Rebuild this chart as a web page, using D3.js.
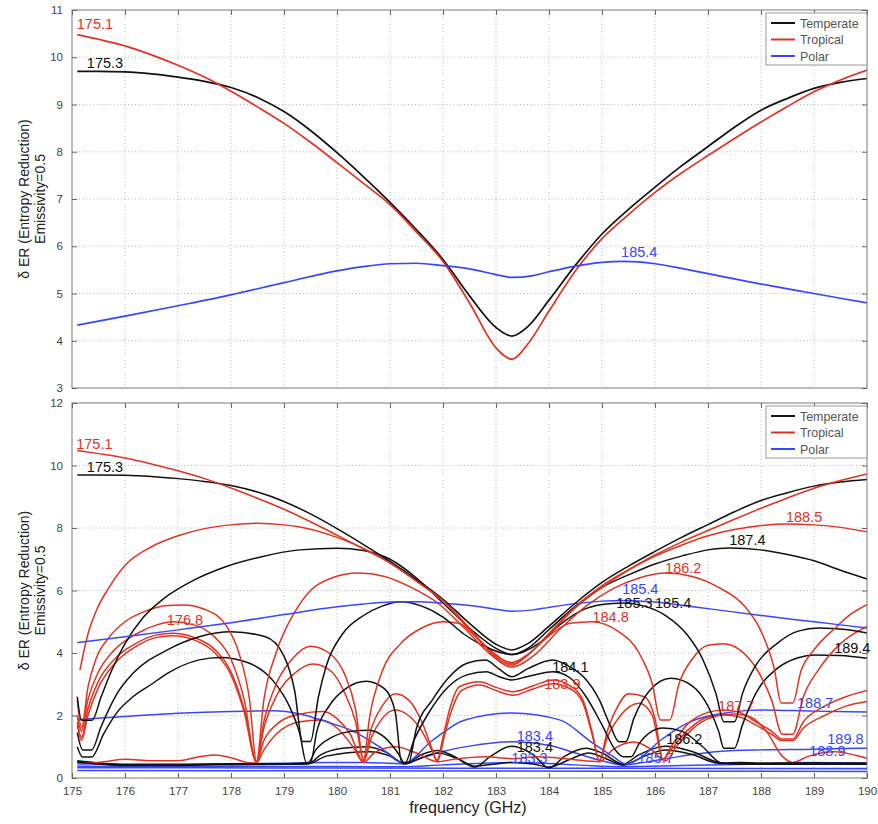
<!DOCTYPE html>
<html>
<head>
<meta charset="utf-8">
<script src="https://cdn.jsdelivr.net/npm/d3@7"></script>
<style>
  body { margin: 0; background: #fff; }
  svg { display: block; font-family: "Liberation Sans", Arial, sans-serif; }
</style>
</head>
<body>
<svg id="chart" width="878" height="824"></svg>
<script>
// ---- axis ticks ----
const freqTicks = [175, 176, 177, 178, 179, 180, 181, 182, 183, 184, 185, 186, 187, 188, 189, 190];
const topYTicks = [3, 4, 5, 6, 7, 8, 9, 10, 11];
const bottomYTicks = [0, 2, 4, 6, 8, 10, 12];

// ---- climate profiles in legend order ----
const profiles = ["Temperate", "Tropical", "Polar"];
const profileColors = ["#111111", "#e3321f", "#3547ff"];

// ---- first channel: [frequency GHz, entropy reduction] ----
const temperateFirst = [[175.1,9.70],[175.5,9.70],[176,9.69],[176.5,9.65],[177,9.58],[177.5,9.49],[178,9.36],[178.5,9.15],[179,8.85],[179.5,8.45],[180,7.98],[180.5,7.47],[181,6.93],[181.5,6.35],[182,5.72],[182.5,4.95],[183,4.28],[183.3,4.10],[183.6,4.30],[184,4.86],[184.5,5.60],[185,6.26],[185.5,6.78],[186,7.25],[186.5,7.70],[187,8.11],[187.5,8.52],[188,8.88],[188.5,9.13],[189,9.34],[189.5,9.47],[190,9.55]];
const tropicalFirst = [[175.1,10.48],[175.5,10.38],[176,10.24],[176.5,10.05],[177,9.83],[177.5,9.58],[178,9.28],[178.5,8.95],[179,8.60],[179.5,8.20],[180,7.77],[180.5,7.33],[181,6.88],[181.5,6.30],[182,5.68],[182.5,4.80],[183,3.85],[183.3,3.61],[183.6,3.93],[184,4.63],[184.5,5.48],[185,6.16],[185.5,6.67],[186,7.14],[186.5,7.55],[187,7.92],[187.5,8.28],[188,8.63],[188.5,8.96],[189,9.27],[189.5,9.52],[190,9.73]];
const polarFirst = [[175.1,4.33],[176,4.52],[177,4.74],[178,4.97],[179,5.23],[180,5.48],[180.5,5.57],[181,5.63],[181.5,5.64],[182,5.59],[182.5,5.52],[183,5.40],[183.3,5.34],[183.7,5.38],[184,5.46],[184.5,5.58],[185,5.66],[185.4,5.68],[186,5.63],[186.5,5.53],[187,5.42],[188,5.20],[189,5.00],[190,4.80]];

// ---- further channels, temperate ----
const temperate187_4 = [[175.1,2.60],[175.18,1.85],[175.38,1.85],[175.55,2.60],[175.75,3.45],[176,4.30],[176.35,5.15],[176.7,5.70],[177.3,6.33],[177.9,6.76],[178.5,7.05],[179.3,7.30],[180,7.35],[180.5,7.28],[181,7.00],[181.5,6.40],[182,5.60],[182.5,4.80],[183,4.15],[183.3,3.95],[183.6,4.15],[184,4.75],[184.5,5.50],[185,6.10],[185.5,6.50],[186,6.85],[186.5,7.10],[187,7.30],[187.4,7.36],[188,7.30],[188.5,7.15],[189,6.95],[189.5,6.65],[190,6.37]];
const temperate185_4 = [[175.1,1.45],[175.2,0.90],[175.37,0.90],[175.55,1.65],[175.85,2.70],[176.15,3.35],[176.8,4.10],[177.4,4.52],[178,4.68],[178.65,4.52],[179.0,3.90],[179.2,2.80],[179.35,1.17],[179.5,1.17],[179.65,2.60],[179.8,3.60],[180.1,4.60],[180.5,5.20],[180.85,5.50],[181.2,5.64],[181.6,5.50],[182.0,5.15],[182.4,4.60],[182.8,4.20],[183.3,3.95],[183.8,4.30],[184.2,4.90],[184.6,5.35],[185.0,5.55],[185.4,5.60],[185.8,5.50],[186.2,5.20],[186.6,4.60],[186.9,3.80],[187.15,2.70],[187.3,1.80],[187.5,1.80],[187.65,2.70],[187.9,3.60],[188.3,4.30],[188.7,4.70],[189.1,4.80],[189.6,4.75],[190,4.64]];
const temperate184_1 = [[175.1,1.00],[175.2,0.67],[175.37,0.67],[175.6,1.42],[175.85,2.10],[176.15,2.60],[176.5,3.00],[176.8,3.35],[177.4,3.78],[177.8,3.86],[178.35,3.67],[178.8,3.10],[179.1,2.30],[179.3,1.40],[179.42,0.50],[179.5,0.50],[179.62,1.50],[179.85,2.30],[180.2,2.90],[180.55,3.10],[180.9,2.85],[181.1,2.10],[181.22,0.50],[181.35,0.50],[181.5,1.60],[181.8,2.50],[182.1,3.20],[182.45,3.67],[182.8,3.78],[183.05,3.50],[183.3,3.24],[183.6,3.50],[184.07,3.78],[184.4,3.55],[184.65,3.24],[184.95,2.50],[185.15,1.70],[185.32,1.16],[185.45,1.16],[185.6,1.90],[185.9,2.80],[186.3,3.19],[186.7,2.95],[187.0,2.30],[187.2,1.50],[187.3,0.95],[187.5,0.95],[187.65,1.70],[187.9,2.70],[188.3,3.50],[188.7,3.85],[189.0,3.94],[189.5,3.92],[190,3.83]];
const temperate185_3 = [[175.1,0.50],[176,0.42],[177,0.42],[178,0.46],[179,0.46],[179.45,0.48],[179.6,0.90],[179.9,1.30],[180.3,1.50],[180.6,1.53],[180.9,1.30],[181.15,0.80],[181.28,0.47],[181.45,1.20],[181.7,2.00],[182.1,2.92],[182.45,3.30],[182.82,3.40],[183.05,3.25],[183.3,3.14],[183.6,3.25],[184.07,3.40],[184.4,3.20],[184.7,2.60],[185.0,1.70],[185.25,0.90],[185.4,0.68],[185.55,0.68],[185.7,1.10],[185.9,1.45],[186.15,1.60],[186.5,1.50],[186.9,1.00],[187.27,0.47],[187.6,0.50],[188,0.48],[189,0.48],[190,0.48]];
const temperate183_4 = [[175.1,0.55],[175.5,0.48],[176,0.42],[177,0.40],[178,0.45],[179,0.45],[179.45,0.46],[179.7,0.75],[180.1,0.95],[180.55,1.00],[180.9,0.85],[181.28,0.46],[181.6,0.75],[181.9,0.88],[182.2,0.70],[182.6,0.35],[182.9,0.70],[183.3,1.02],[183.7,0.75],[184.0,0.32],[184.3,0.70],[184.7,0.95],[185.0,0.80],[185.4,0.45],[185.7,0.75],[186.2,1.02],[186.7,0.85],[187.2,0.50],[187.6,0.45],[188,0.45],[189,0.45],[190,0.45]];
const temperate186_2 = [[175.1,0.52],[176,0.40],[177.5,0.42],[179,0.44],[179.45,0.45],[179.8,0.70],[180.6,0.84],[181.0,0.70],[181.28,0.45],[181.6,0.65],[181.9,0.80],[182.3,0.60],[182.6,0.38],[183.0,0.45],[183.3,0.50],[183.7,0.45],[184.0,0.35],[184.4,0.60],[184.75,0.80],[185.1,0.60],[185.4,0.42],[185.8,0.70],[186.2,0.90],[186.7,0.75],[187.2,0.47],[188,0.44],[189,0.44],[190,0.44]];

// ---- further channels, tropical ----
const tropical188_5 = [[175.15,3.45],[175.3,4.60],[175.47,5.40],[175.7,6.10],[176,6.80],[176.5,7.40],[177,7.75],[177.5,7.98],[178,8.10],[178.5,8.15],[179,8.10],[179.3,8.03],[180,7.70],[180.5,7.35],[181,6.90],[181.5,6.30],[182,5.65],[182.5,4.75],[183,3.90],[183.3,3.70],[183.6,3.95],[184,4.60],[184.5,5.45],[185,6.10],[185.5,6.65],[186,7.10],[186.5,7.45],[187,7.75],[187.5,7.95],[188,8.08],[188.5,8.13],[189,8.10],[189.5,8.02],[190,7.88]];
const tropical186_2 = [[175.1,2.50],[175.18,1.60],[175.3,2.90],[175.45,3.80],[175.7,4.50],[176,5.00],[176.4,5.35],[176.8,5.52],[177.1,5.54],[177.5,5.40],[177.9,4.90],[178.15,4.00],[178.35,2.50],[178.48,0.52],[178.62,2.50],[178.85,4.00],[179.2,5.30],[179.5,6.00],[179.9,6.40],[180.4,6.56],[180.9,6.45],[181.4,6.10],[181.9,5.60],[182.4,4.80],[182.9,3.95],[183.3,3.55],[183.7,3.90],[184.2,4.75],[184.7,5.50],[185.2,6.05],[185.7,6.40],[186.2,6.56],[186.7,6.45],[187.2,6.10],[187.7,5.48],[188.0,4.70],[188.25,3.50],[188.38,2.40],[188.6,2.40],[188.75,3.40],[189.0,4.10],[189.4,4.80],[189.7,5.25],[190,5.55]];
const tropical184_8 = [[175.1,2.00],[175.18,1.50],[175.3,2.50],[175.5,3.40],[175.8,4.10],[176.2,4.60],[176.6,4.90],[176.9,5.00],[177.3,4.90],[177.7,4.50],[178.0,3.80],[178.25,2.50],[178.48,0.52],[178.62,1.80],[178.85,3.00],[179.15,3.80],[179.5,4.22],[179.85,4.00],[180.15,3.30],[180.35,2.20],[180.5,0.60],[180.62,2.00],[180.85,3.40],[181.2,4.30],[181.6,4.80],[182.0,5.00],[182.3,4.95],[182.6,4.55],[183.0,3.95],[183.3,3.65],[183.6,3.95],[184.0,4.55],[184.4,4.95],[184.8,5.00],[185.3,4.70],[185.7,4.00],[185.95,3.00],[186.1,1.86],[186.28,1.86],[186.45,3.00],[186.7,3.80],[187.0,4.25],[187.3,4.30],[187.6,4.10],[187.95,3.40],[188.2,2.50],[188.4,1.40],[188.6,1.40],[188.8,2.60],[189.1,3.50],[189.5,4.30],[190,4.85]];
const tropical183_9 = [[175.1,1.80],[175.18,1.30],[175.3,2.20],[175.5,3.10],[175.8,3.80],[176.2,4.30],[176.6,4.58],[176.9,4.63],[177.3,4.50],[177.7,4.10],[178.0,3.40],[178.25,2.20],[178.48,0.52],[178.62,1.60],[178.85,2.60],[179.2,3.35],[179.55,3.65],[179.9,3.40],[180.15,2.70],[180.35,1.80],[180.5,0.55],[180.65,1.60],[180.85,2.30],[181.1,2.70],[181.35,2.50],[181.6,1.80],[181.8,0.90],[181.88,0.55],[182.0,1.30],[182.12,2.17],[182.31,2.92],[182.69,3.08],[183.0,2.90],[183.32,2.76],[183.7,2.95],[184.07,3.14],[184.4,2.95],[184.64,2.50],[184.82,1.43],[184.95,0.55],[185.1,1.50],[185.3,2.30],[185.5,2.70],[185.8,2.60],[186.0,1.90],[186.15,0.60],[186.3,1.00],[186.6,1.70],[187.0,2.10],[187.3,2.18],[187.6,2.10],[187.9,1.80],[188.2,1.50],[188.4,1.25],[188.6,1.25],[188.8,1.80],[189.2,2.30],[189.6,2.60],[190,2.80]];
const tropical183_8 = [[175.1,1.70],[175.18,1.20],[175.3,2.00],[175.5,2.90],[175.8,3.65],[176.2,4.20],[176.6,4.50],[176.9,4.55],[177.3,4.42],[177.7,4.00],[178.0,3.30],[178.25,2.10],[178.48,0.52],[178.62,1.20],[178.85,1.70],[179.3,2.05],[179.74,2.13],[180.0,1.90],[180.25,1.40],[180.5,0.52],[180.65,1.30],[180.85,1.90],[181.1,2.18],[181.35,2.00],[181.6,1.50],[181.8,0.85],[181.9,0.55],[182.02,1.30],[182.15,2.10],[182.35,2.80],[182.69,2.98],[183.0,2.80],[183.32,2.65],[183.7,2.85],[184.07,3.02],[184.4,2.85],[184.64,2.40],[184.82,1.35],[184.95,0.55],[185.1,1.30],[185.35,2.00],[185.7,2.39],[185.95,2.00],[186.15,0.60],[186.3,0.90],[186.6,1.50],[187.0,1.95],[187.3,2.02],[187.6,1.95],[187.9,1.70],[188.2,1.40],[188.4,1.20],[188.6,1.20],[188.8,1.60],[189.2,2.00],[189.6,2.30],[190,2.45]];
const tropical187_7 = [[175.1,0.50],[175.3,0.47],[175.6,0.52],[176.0,0.60],[176.5,0.55],[177.0,0.55],[177.4,0.68],[177.7,0.74],[178.0,0.65],[178.3,0.50],[178.48,0.48],[178.62,0.90],[178.85,1.40],[179.3,1.80],[179.7,1.86],[180.0,1.60],[180.3,1.00],[180.5,0.50],[180.7,0.80],[181.1,1.00],[181.5,0.80],[181.9,0.52],[182.2,0.60],[182.8,0.68],[183.3,0.62],[183.8,0.68],[184.4,0.60],[184.95,0.52],[185.2,0.90],[185.6,1.15],[185.9,0.95],[186.2,0.55],[186.4,1.00],[186.8,1.70],[187.2,2.00],[187.5,2.05],[187.8,1.95],[188.1,1.50],[188.4,0.70],[188.6,0.50],[188.9,0.70],[189.4,0.84],[189.8,0.72],[190,0.63]];

// ---- further channels, polar ----
const polar188_7 = [[175.1,1.87],[176,1.97],[177,2.07],[178,2.13],[178.8,2.15],[179.3,2.05],[179.8,1.80],[180.3,1.50],[180.8,1.00],[181.25,0.48],[181.8,1.20],[182.4,1.85],[183.3,2.08],[184.2,1.86],[184.8,1.15],[185.2,0.70],[185.45,0.45],[185.7,0.62],[186.1,1.20],[186.6,1.75],[187.4,2.10],[188,2.18],[189,2.14],[190,2.11]];
const polar183_4 = [[175.1,0.45],[176,0.45],[177,0.45],[178,0.46],[179,0.47],[179.8,0.50],[180.5,0.50],[181.25,0.46],[181.6,0.65],[182.0,0.85],[182.5,1.02],[183.3,1.16],[184.0,1.05],[184.5,0.80],[185.0,0.55],[185.4,0.42],[185.8,0.50],[186.5,0.70],[187.2,0.85],[188,0.90],[189,0.92],[189.8,0.95],[190,0.95]];
const polar183_3 = [[175.1,0.38],[177,0.37],[179,0.37],[181.2,0.36],[182,0.42],[183.3,0.50],[184.5,0.42],[185.4,0.36],[186.5,0.40],[188,0.45],[188.9,0.50],[190,0.48]];
const polarFloorA = [[175.1,0.33],[180,0.32],[185,0.31],[190,0.30]];
const polarFloorB = [[175.1,0.24],[180,0.23],[185,0.22],[190,0.21]];

// curve labels: [panel, text, profile index, frequency at left edge, value at baseline]
const curveLabels = [
  [0, "175.1", 1, 175.09, 10.60],
  [0, "175.3", 0, 175.28, 9.77],
  [0, "185.4", 2, 185.36, 5.77],
  [1, "175.1", 1, 175.08, 10.53],
  [1, "175.3", 0, 175.28, 9.79],
  [1, "176.8", 1, 176.79, 4.90],
  [1, "188.5", 1, 188.47, 8.19],
  [1, "187.4", 0, 187.40, 7.46],
  [1, "186.2", 1, 186.19, 6.56],
  [1, "185.4", 2, 185.38, 5.89],
  [1, "185.3", 0, 185.27, 5.44],
  [1, "185.4", 0, 186.00, 5.44],
  [1, "184.8", 1, 184.82, 4.99],
  [1, "184.1", 0, 184.06, 3.39],
  [1, "183.9", 1, 183.91, 2.85],
  [1, "183.4", 2, 183.39, 1.18],
  [1, "183.4", 0, 183.39, 0.83],
  [1, "183.3", 2, 183.29, 0.48],
  [1, "186.2", 0, 186.21, 1.09],
  [1, "185.7", 2, 185.67, 0.48],
  [1, "187.7", 1, 187.19, 2.14],
  [1, "188.7", 2, 188.68, 2.24],
  [1, "189.8", 2, 189.25, 1.09],
  [1, "188.9", 2, 188.91, 0.70],
  [1, "189.4", 0, 189.38, 4.00]
];

const svg = d3.select("#chart");
svg.append("rect").attr("width", 878).attr("height", 824).attr("fill", "#fff");

const x = d3.scaleLinear().domain([175, 190]).range([72, 867]);
const panels = [
  { y: d3.scaleLinear().domain([3, 11]).range([388, 10]), ticks: topYTicks,
    series: [[temperateFirst, 0], [tropicalFirst, 1], [polarFirst, 2]] },
  { y: d3.scaleLinear().domain([0, 12]).range([778, 403]), ticks: bottomYTicks,
    series: [
      [polarFloorB, 2], [polarFloorA, 2], [polar183_3, 2], [polar183_4, 2],
      [temperate186_2, 0], [temperate183_4, 0], [tropical187_7, 1],
      [polar188_7, 2],
      [tropical183_8, 1], [tropical183_9, 1], [temperate185_3, 0], [temperate184_1, 0],
      [tropical184_8, 1], [temperate185_4, 0], [tropical186_2, 1],
      [temperate187_4, 0], [tropical188_5, 1],
      [polarFirst, 2], [temperateFirst, 0], [tropicalFirst, 1]
    ] }
];

panels.forEach((p, i) => {
  const g = svg.append("g");
  const [y0, y1] = p.y.range();
  const [x0, x1] = x.range();

  // dotted grid
  g.append("g").selectAll("line").data(freqTicks.slice(1, -1)).join("line")
    .attr("x1", d => x(d)).attr("x2", d => x(d)).attr("y1", y1).attr("y2", y0)
    .attr("stroke", "#b5b5b5").attr("stroke-dasharray", "1,2.5");
  g.append("g").selectAll("line").data(p.ticks.slice(1, -1)).join("line")
    .attr("x1", x0).attr("x2", x1).attr("y1", d => p.y(d)).attr("y2", d => p.y(d))
    .attr("stroke", "#b5b5b5").attr("stroke-dasharray", "1,2.5");

  // curves
  const line = d3.line().x(d => x(d[0])).y(d => p.y(d[1])).curve(d3.curveMonotoneX);
  const clipId = "clip" + i;
  svg.append("clipPath").attr("id", clipId).append("rect")
    .attr("x", x0).attr("y", y1).attr("width", x1 - x0).attr("height", y0 - y1);
  g.append("g").attr("clip-path", `url(#${clipId})`).selectAll("path").data(p.series).join("path")
    .attr("d", d => line(d[0])).attr("fill", "none")
    .attr("stroke", d => profileColors[d[1]]).attr("stroke-width", i === 0 ? 1.7 : 1.5)
    .attr("stroke-linejoin", "round");

  // frame and inward ticks on all four sides
  g.append("rect").attr("x", x0).attr("y", y1).attr("width", x1 - x0).attr("height", y0 - y1)
    .attr("fill", "none").attr("stroke", "#7a7a7a").attr("stroke-width", 1);
  const axB = d3.axisBottom(x).tickValues(freqTicks).tickSize(-5).tickPadding(9).tickFormat(d3.format("d"));
  const axT = d3.axisTop(x).tickValues(freqTicks).tickSize(-5).tickFormat("");
  const axL = d3.axisLeft(p.y).tickValues(p.ticks).tickSize(-5).tickPadding(9).tickFormat(d3.format("d"));
  const axR = d3.axisRight(p.y).tickValues(p.ticks).tickSize(-5).tickFormat("");
  const place = (sel) => { sel.select(".domain").remove();
    sel.selectAll(".tick line").attr("stroke", "#666");
    sel.selectAll("text").attr("fill", "#444").style("font-size", "11.5px").style("font-family", "Liberation Sans, Arial, sans-serif"); };
  if (i === 1) g.append("g").attr("transform", `translate(0,${y0})`).call(axB).call(place);
  g.append("g").attr("transform", `translate(0,${y1})`).call(axT).call(place);
  g.append("g").attr("transform", `translate(${x0},0)`).call(axL).call(place);
  g.append("g").attr("transform", `translate(${x1},0)`).call(axR).call(place);

  // y title
  const cy = (y0 + y1) / 2;
  g.append("text").attr("transform", `translate(29,${cy}) rotate(-90)`).attr("text-anchor", "middle")
    .style("font-size", "14px").attr("fill", "#222").text("\u03b4 ER (Entropy Reduction)");
  g.append("text").attr("transform", `translate(45,${cy}) rotate(-90)`).attr("text-anchor", "middle")
    .style("font-size", "14px").attr("fill", "#222").text("Emissivity=0.5");

  // legend
  const lg = g.append("g").attr("transform", `translate(766,${y1 + 3})`);
  lg.append("rect").attr("width", 101).attr("height", 52).attr("fill", "#fff").attr("stroke", "#999");
  profiles.forEach((name, k) => {
    const ly = 10 + k * 16.5;
    lg.append("line").attr("x1", 5).attr("x2", 29).attr("y1", ly).attr("y2", ly)
      .attr("stroke", profileColors[k]).attr("stroke-width", 2);
    lg.append("text").attr("x", 34).attr("y", ly + 4.5).style("font-size", "12.4px").attr("fill", "#555").text(name);
  });

  // value labels
  g.append("g").selectAll("text").data(curveLabels.filter(l => l[0] === i)).join("text")
    .attr("x", d => x(d[3])).attr("y", d => p.y(d[4]))
    .style("font-size", "14.5px").attr("fill", d => profileColors[d[2]]).text(d => d[1]);
});

svg.append("text").attr("x", 468).attr("y", 813).attr("text-anchor", "middle")
  .style("font-size", "16px").attr("fill", "#222").text("frequency (GHz)");
</script>
</body>
</html>
